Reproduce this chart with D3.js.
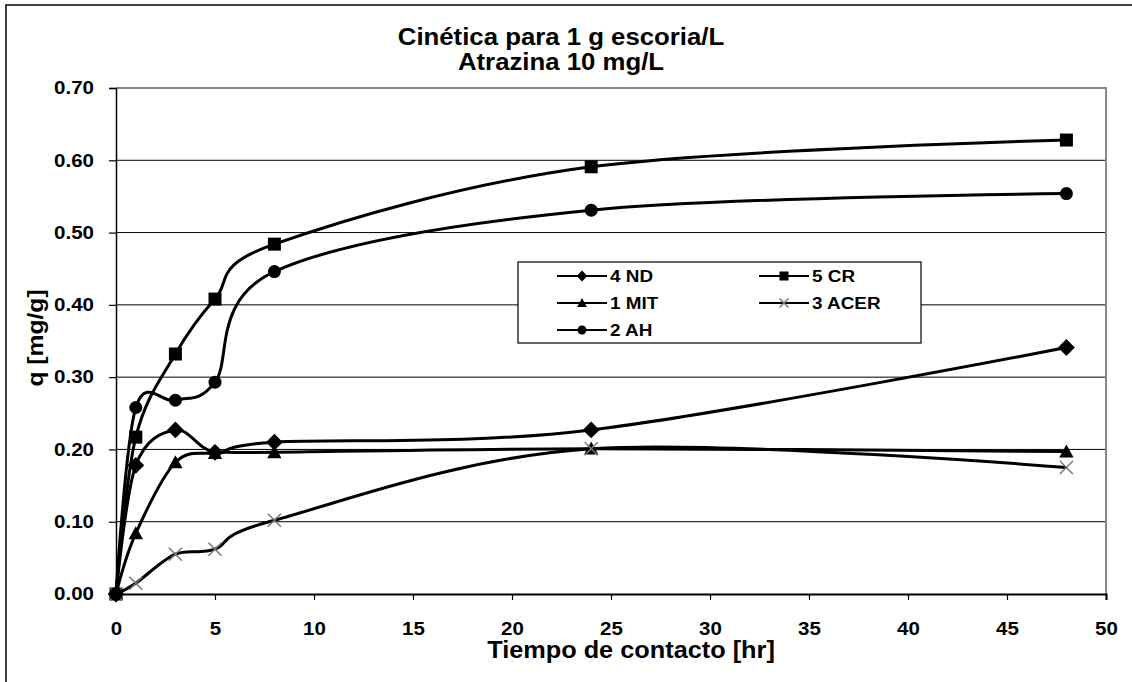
<!DOCTYPE html>
<html>
<head>
<meta charset="utf-8">
<script src="https://cdn.jsdelivr.net/npm/d3@7"></script>
<style>
  html, body { margin: 0; padding: 0; background: #fff; }
  svg { display: block; }
  text { font-family: "Liberation Sans", Arial, sans-serif; font-weight: bold; fill: #000; }
</style>
</head>
<body>
<div id="chart"></div>
<script>
// Contact time (hours) and adsorbed amount q (mg/g) per slag sample
const tiempo = [0, 1, 3, 5, 8, 24, 48];
const nd   = [0, 0.178, 0.227, 0.196, 0.210, 0.227, 0.341];
const cr   = [0, 0.217, 0.332, 0.408, 0.484, 0.591, 0.628];
const mit  = [0, 0.084, 0.182, 0.195, 0.196, 0.201, 0.197];
const acer = [0, 0.015, 0.055, 0.062, 0.102, 0.201, 0.175];
const ah   = [0, 0.258, 0.268, 0.293, 0.446, 0.531, 0.554];

const seriesNames = ["4 ND", "5 CR", "1 MIT", "3 ACER", "2 AH"];
const seriesValues = [nd, cr, mit, acer, ah];
const seriesMarkers = ["diamond", "square", "triangle", "cross", "circle"];

const xTicks = [0, 5, 10, 15, 20, 25, 30, 35, 40, 45, 50];
const yTicks = [0, 0.1, 0.2, 0.3, 0.4, 0.5, 0.6, 0.7];

const titleLines = ["Cinética para 1 g escoria/L", "Atrazina 10 mg/L"];
const xTitle = "Tiempo de contacto [hr]";
const yTitle = "q [mg/g]";

const W = 1132, H = 682;
const plot = { left: 116, right: 1106, top: 88, bottom: 594 };

const svg = d3.select("#chart").append("svg").attr("width", W).attr("height", H);

// widen text horizontally by factor k (the chart's type is set slightly extended)
function stretch(sel, k) {
  sel.each(function () {
    const len = this.getComputedTextLength();
    d3.select(this).attr("textLength", len * k).attr("lengthAdjust", "spacingAndGlyphs");
  });
}

// outer chart frame
svg.append("rect").attr("x", 6).attr("y", 5).attr("width", W + 20).attr("height", H + 20)
  .attr("fill", "#fff").attr("stroke", "#000").attr("stroke-width", 1.5);

const x = d3.scaleLinear().domain([0, 50]).range([plot.left, plot.right]);
const y = d3.scaleLinear().domain([0, 0.7]).range([plot.bottom, plot.top]);

// horizontal gridlines
svg.append("g").selectAll("line").data(yTicks.filter(v => v > 0 && v < 0.7)).join("line")
  .attr("x1", plot.left).attr("x2", plot.right)
  .attr("y1", d => y(d)).attr("y2", d => y(d))
  .attr("stroke", "#000").attr("stroke-width", 1);

// plot frame (top and right)
svg.append("path")
  .attr("d", `M${plot.left},${y(0.7)}H${plot.right}V${plot.bottom}`)
  .attr("fill", "none").attr("stroke", "#888").attr("stroke-width", 2);

// axes
const yAxis = d3.axisLeft(y).tickValues(yTicks).tickFormat(d3.format(".2f")).tickSize(7).tickPadding(15);
const gy = svg.append("g").attr("transform", `translate(${plot.left},0)`).call(yAxis);
gy.select(".domain").attr("stroke", "#000").attr("stroke-width", 1.5);
gy.selectAll(".tick line").attr("stroke", "#000").attr("stroke-width", 1.2);
gy.selectAll("text").style("font-size", "18px").attr("font-family", null);
stretch(gy.selectAll("text"), 1.14);

const xAxis = d3.axisBottom(x).tickValues(xTicks).tickFormat(d3.format("d")).tickSize(6).tickPadding(22);
const gx = svg.append("g").attr("transform", `translate(0,${plot.bottom})`).call(xAxis);
gx.select(".domain").attr("stroke", "#000").attr("stroke-width", 2);
gx.selectAll(".tick line").attr("stroke", "#000").attr("stroke-width", 1.2);
gx.selectAll("text").style("font-size", "18px").attr("font-family", null);
stretch(gx.selectAll("text"), 1.14);

// titles
const tt = svg.append("g").selectAll("text").data(titleLines).join("text")
  .attr("x", 561).attr("y", (d, i) => 45 + i * 25)
  .attr("text-anchor", "middle").style("font-size", "23px").text(d => d);
stretch(tt, 1.12);

const xt = svg.append("text").attr("x", 631).attr("y", 658).attr("text-anchor", "middle")
  .style("font-size", "23px").text(xTitle);
stretch(xt, 1.10);

const yt = svg.append("text").attr("transform", "translate(43,338) rotate(-90)").attr("text-anchor", "middle")
  .style("font-size", "22px").text(yTitle);
stretch(yt, 1.12);

// marker shapes
function drawMarker(g, type, cx, cy, s) {
  if (type === "diamond") {
    g.append("path").attr("d", `M${cx},${cy - s * 0.6}L${cx + s * 0.6},${cy}L${cx},${cy + s * 0.6}L${cx - s * 0.6},${cy}Z`).attr("fill", "#000");
  } else if (type === "square") {
    g.append("rect").attr("x", cx - s / 2).attr("y", cy - s / 2).attr("width", s).attr("height", s).attr("fill", "#000");
  } else if (type === "triangle") {
    g.append("path").attr("d", `M${cx},${cy - s * 0.55}L${cx + s * 0.55},${cy + s * 0.45}L${cx - s * 0.55},${cy + s * 0.45}Z`).attr("fill", "#000");
  } else if (type === "circle") {
    g.append("circle").attr("cx", cx).attr("cy", cy).attr("r", s / 2).attr("fill", "#000");
  } else if (type === "cross") {
    const h = s / 2;
    g.append("path").attr("d", `M${cx - h},${cy - h}L${cx + h},${cy + h}M${cx - h},${cy + h}L${cx + h},${cy - h}`)
      .attr("stroke", "#777").attr("stroke-width", 1.5).attr("fill", "none");
  }
}

const markerSize = { diamond: 14, square: 13, triangle: 13, circle: 13, cross: 13 };

const line = d3.line().x(d => x(d[0])).y(d => y(d[1])).curve(d3.curveCardinal.tension(0));

const series = svg.append("g");
seriesValues.forEach((vals, i) => {
  const pts = tiempo.map((t, j) => [t, vals[j]]);
  const g = series.append("g");
  g.append("path").attr("d", line(pts)).attr("fill", "none").attr("stroke", "#000").attr("stroke-width", 3);
  pts.forEach(p => drawMarker(g, seriesMarkers[i], x(p[0]), y(p[1]), markerSize[seriesMarkers[i]]));
});

// legend
const legend = svg.append("g");
legend.append("rect").attr("x", 518).attr("y", 262).attr("width", 403).attr("height", 81)
  .attr("fill", "#fff").attr("stroke", "#000").attr("stroke-width", 1.2);
const legPos = [[557, 276], [759, 276], [557, 303], [759, 303], [557, 330]];
seriesNames.forEach((name, i) => {
  const [lx, ly] = legPos[i];
  legend.append("line").attr("x1", lx).attr("x2", lx + 50).attr("y1", ly).attr("y2", ly)
    .attr("stroke", "#000").attr("stroke-width", 2);
  drawMarker(legend, seriesMarkers[i], lx + 25, ly, 9);
  const t = legend.append("text").attr("x", lx + 53).attr("y", ly + 6).style("font-size", "16px").text(name);
  stretch(t, 1.18);
});
</script>
</body>
</html>
